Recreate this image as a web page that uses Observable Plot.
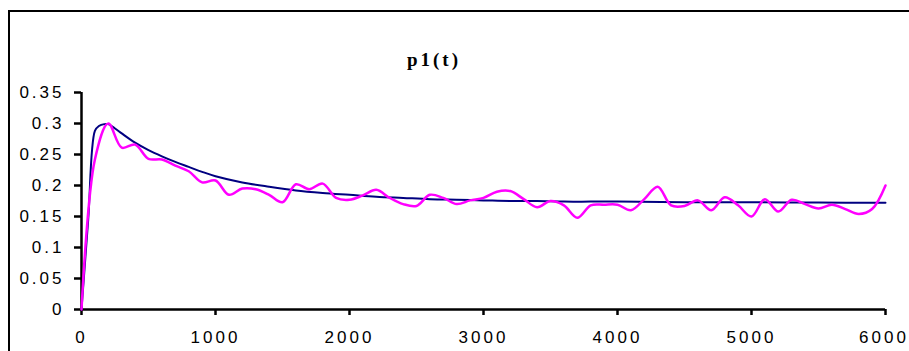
<!DOCTYPE html>
<html>
<head>
<meta charset="utf-8">
<script src="https://cdn.jsdelivr.net/npm/d3@7"></script>
<script src="https://cdn.jsdelivr.net/npm/@observablehq/plot@0.6"></script>
<style>
  html, body { margin: 0; padding: 0; background: #fff; overflow: hidden; }
  #wrap { position: relative; width: 909px; height: 351px; overflow: hidden; }
  #frame { position: absolute; left: 8px; top: 10px; width: 1000px; height: 1000px;
           border-left: 2.5px solid #000; border-top: 2.5px solid #000; }
  #title { position: absolute; left: 434px; top: 49px; transform: translateX(-50%);
           font-family: "Liberation Serif", "Times New Roman", serif; font-weight: bold;
           font-size: 19px; letter-spacing: 3px; white-space: nowrap; }
  #chart { position: absolute; left: 0; top: 0; }
</style>
</head>
<body>
<div id="wrap">
  <div id="frame"></div>
  <div id="title">p1(t)</div>
  <div id="chart"></div>
</div>
<script>
const titleText = "p1(t)";

// Smooth theoretical curve (navy)
const navyT = [0, 50, 100, 130, 170, 200, 250, 300, 400, 500, 600, 700, 800, 900, 1000, 1200, 1400, 1600, 1800, 2000, 2200, 2400, 2600, 2800, 3000, 3200, 3400, 3600, 3800, 4000, 4500, 5000, 5500, 6000];
const navyV = [0, 0.145, 0.288, 0.296, 0.299, 0.299, 0.292, 0.284, 0.269, 0.257, 0.247, 0.238, 0.230, 0.222, 0.215, 0.205, 0.198, 0.192, 0.188, 0.185, 0.182, 0.180, 0.178, 0.177, 0.176, 0.175, 0.175, 0.174, 0.174, 0.174, 0.173, 0.173, 0.1725, 0.172];

// Simulated / noisy curve (magenta), every 100
const magT = d3.range(0, 6001, 100);
const magV = [0, 0.242, 0.300, 0.261, 0.266, 0.243, 0.242, 0.232, 0.223, 0.205,
  0.208, 0.185, 0.195, 0.194, 0.185, 0.173, 0.202, 0.194, 0.203, 0.180,
  0.177, 0.184, 0.193, 0.180, 0.170, 0.167, 0.185, 0.180, 0.170, 0.176,
  0.180, 0.190, 0.191, 0.178, 0.165, 0.175, 0.168, 0.148, 0.168, 0.169,
  0.169, 0.160, 0.178, 0.198, 0.168, 0.167, 0.176, 0.160, 0.181, 0.168,
  0.150, 0.178, 0.158, 0.177, 0.170, 0.163, 0.169, 0.162, 0.154, 0.162,
  0.200];

const xTicks = [0, 1000, 2000, 3000, 4000, 5000, 6000];
const yTicks = [0, 0.05, 0.1, 0.15, 0.2, 0.25, 0.3, 0.35];
const yTickLabels = ["0", "0.05", "0.1", "0.15", "0.2", "0.25", "0.3", "0.35"];

const navy = navyT.map((t, i) => ({t, v: navyV[i]}));
const mag = magT.map((t, i) => ({t, v: magV[i]}));

document.getElementById("title").textContent = titleText;

const chart = Plot.plot({
  width: 909,
  height: 351,
  marginLeft: 81,
  marginRight: 24,
  marginTop: 92,
  marginBottom: 42,
  style: {fontFamily: "Liberation Sans, Arial, sans-serif", fontSize: "17px", letterSpacing: "3px", color: "#000", background: "transparent", overflow: "visible"},
  x: {domain: [0, 6000]},
  y: {domain: [0, 0.35]},
  marks: [
    Plot.axisX({ticks: xTicks, tickSize: 6, tickPadding: 15, strokeWidth: 2.5, fontSize: 17, tickFormat: d => String(d), label: null}),
    Plot.axisY({ticks: yTicks, tickSize: 7, tickPadding: 10, strokeWidth: 2.5, fontSize: 17, tickFormat: d => yTickLabels[yTicks.indexOf(d)] ?? String(d), label: null}),
    Plot.ruleX([0], {stroke: "#000", strokeWidth: 2.5}),
    Plot.ruleY([0], {stroke: "#000", strokeWidth: 2.5}),
    Plot.line(navy, {x: "t", y: "v", stroke: "#000080", strokeWidth: 2, curve: "catmull-rom"}),
    Plot.line(mag, {x: "t", y: "v", stroke: "#FF00FF", strokeWidth: 2.5, curve: "catmull-rom"})
  ]
});
// keep the last x label (at the window edge) inside the page
d3.select(chart).selectAll('g[aria-label="x-axis tick label"] text')
  .filter(function() { return this.textContent === "6000"; })
  .attr("dx", -1.5);
document.getElementById("chart").appendChild(chart);
</script>
</body>
</html>
